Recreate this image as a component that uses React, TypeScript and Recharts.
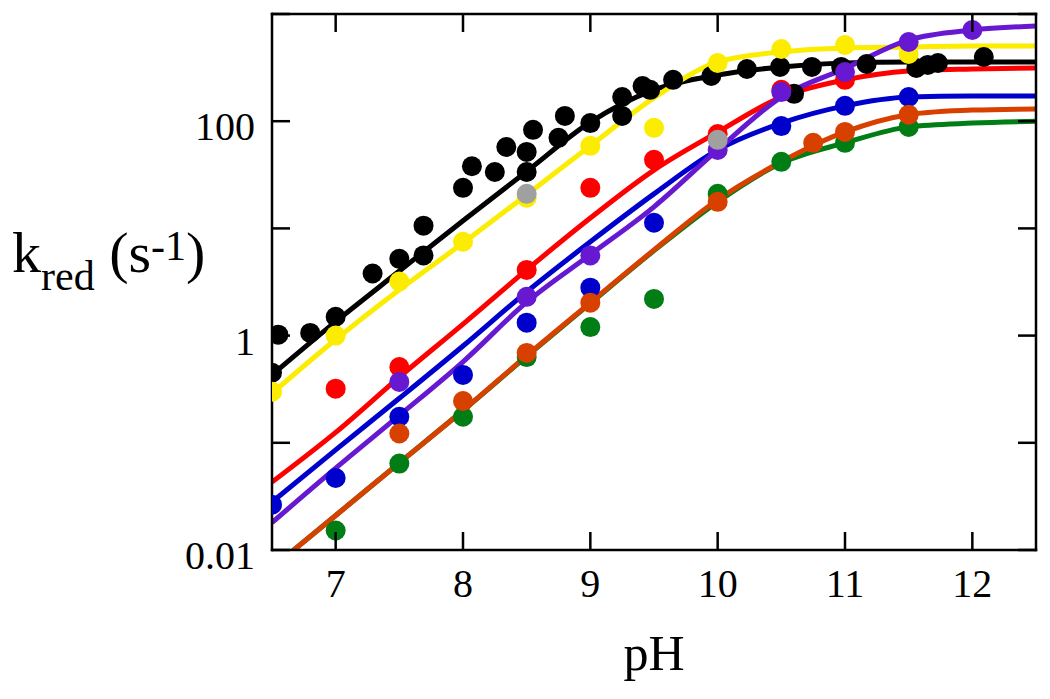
import React from 'react';
import { ComposedChart, Line, Scatter, XAxis, YAxis } from 'recharts';

// ---- axis ticks ----
const xTicks = [7, 8, 9, 10, 11, 12];
const yTicks = [0.01, 0.1, 1, 10, 100, 1000];
const yLabelled = [0.01, 1, 100];

// ---- fitted curves (read at each half pH unit) ----
const fitPH = [6.5, 7, 7.5, 8, 8.5, 9, 9.5, 10, 10.5, 11, 11.5, 12, 12.5];
const blackFit = [0.43, 1.35, 4.0, 11.8, 34, 98, 196, 270, 321, 350, 357, 357, 357];
const yellowFit = [0.29, 0.92, 2.68, 7.3, 20.6, 58.9, 165, 357, 443, 482, 492, 503, 503];
const redFit = [0.043, 0.125, 0.41, 1.28, 4.1, 12.5, 35, 79, 168, 243, 294, 307, 314];
const blueFit = [0.028, 0.086, 0.26, 0.8, 2.56, 7.5, 21, 54, 96, 139, 168, 172, 172];
const purpleFit = [0.018, 0.058, 0.18, 0.57, 2.05, 5.7, 15.9, 54, 168, 310, 573, 709, 773];
const orangeFit = [0.0068, 0.021, 0.065, 0.2, 0.65, 2.03, 6.3, 18.5, 41.8, 79.4, 115, 127, 130];
const greenFit = [0.0068, 0.021, 0.065, 0.2, 0.64, 2.0, 6.2, 17.7, 40.8, 62.8, 88.5, 96, 100];

// ---- measured points ----
const blackPH = [6.5, 6.55, 6.8, 7.0, 7.29, 7.5, 7.69, 7.69, 8.0, 8.07, 8.25, 8.34, 8.5, 8.5, 8.55, 8.75, 8.8, 9.0, 9.25, 9.25, 9.41, 9.47, 9.65, 9.95, 10.23, 10.49, 10.6, 10.74, 10.97, 11.17, 11.56, 11.65, 11.73, 12.09];
const blackK = [0.45, 1.02, 1.06, 1.5, 3.8, 5.2, 5.6, 10.6, 23.9, 38, 33.6, 57.5, 51.7, 33.6, 83, 70, 112, 96, 168, 112, 213, 196, 243, 264, 307, 321, 180, 321, 321, 342, 314, 335, 349, 397];

const yellowPH = [6.5, 7, 7.5, 8, 8.5, 9, 9.5, 10, 10.5, 11, 11.5];
const yellowK = [0.3, 1.0, 3.2, 7.5, 19.3, 58.9, 86.7, 349, 472, 514, 424];

const redPH = [7, 7.5, 8.5, 9, 9.5, 10, 10.5, 11];
const redK = [0.32, 0.51, 4.1, 23.9, 43.6, 76, 196, 243];

const bluePH = [6.5, 7, 7.5, 8, 8.5, 9, 9.5, 10.5, 11, 11.5];
const blueK = [0.0265, 0.047, 0.175, 0.43, 1.32, 2.8, 11.3, 90, 139, 168];

const greenPH = [7, 7.5, 8, 8.5, 9, 9.5, 10, 10.5, 11, 11.5];
const greenK = [0.0152, 0.064, 0.175, 0.63, 1.2, 2.2, 21, 41.8, 62.8, 88.5];

const orangePH = [7.5, 8, 8.5, 9, 10, 10.75, 11, 11.5];
const orangeK = [0.122, 0.245, 0.69, 2.03, 17.7, 62.8, 79.4, 115];

const purplePH = [7.5, 8.5, 9, 10, 10.5, 11, 11.5, 12];
const purpleK = [0.37, 2.3, 5.6, 54, 187, 288, 548, 709];

const grayPH = [8.5, 10];
const grayK = [21, 67];

const C = {
  black: '#000000',
  yellow: '#fbec00',
  red: '#ff0000',
  blue: '#0000cc',
  purple: '#6619d1',
  orange: '#d84000',
  green: '#007d14',
  gray: '#a0a0a0',
};

const pts = (xs: number[], ys: number[]) => xs.map((x, i) => ({ x, y: ys[i] }));

const FONT = '"Liberation Serif", "Times New Roman", serif';
const TICK_LEN = 18;
const AX = 2.5;

const BottomTick = (p: any) => {
  const { x, y, payload } = p;
  return (
    <g>
      <line x1={x} x2={x} y1={y} y2={y - TICK_LEN} stroke="#000" strokeWidth={AX} />
      <text x={x} y={y + 47} textAnchor="middle" fontSize={40} fontFamily={FONT} fill="#000">
        {payload.value}
      </text>
    </g>
  );
};

const TopTick = (p: any) => {
  const { x, y } = p;
  return <line x1={x} x2={x} y1={y} y2={y + TICK_LEN} stroke="#000" strokeWidth={AX} />;
};

const LeftTick = (p: any) => {
  const { x, y, payload } = p;
  const v = payload.value;
  const show = yLabelled.some((t) => Math.abs(t - v) < 1e-9);
  return (
    <g>
      <line x1={x} x2={x + TICK_LEN} y1={y} y2={y} stroke="#000" strokeWidth={AX} />
      {show && (
        <text x={x - 17} y={y + 19} textAnchor="end" fontSize={40} fontFamily={FONT} fill="#000">
          {String(v)}
        </text>
      )}
    </g>
  );
};

const RightTick = (p: any) => {
  const { x, y } = p;
  return <line x1={x} x2={x - TICK_LEN} y1={y} y2={y} stroke="#000" strokeWidth={AX} />;
};

const YTitle = (p: any) => {
  const vb = p.viewBox || { x: 0, y: 6 };
  const x = vb.x + 4;
  const y = vb.y + 258;
  return (
    <text x={x} y={y} fontSize={58} fontFamily={FONT} fill="#000">
      <tspan>k</tspan>
      <tspan fontSize={42} dy={18}>red</tspan>
      <tspan dy={-18}>{'\u00A0(s'}</tspan>
      <tspan fontSize={42} dy={-12}>-1</tspan>
      <tspan dy={12}>)</tspan>
    </text>
  );
};

const XTitle = (p: any) => {
  const vb = p.viewBox || { x: 264, y: 542, width: 764 };
  return (
    <text x={vb.x + vb.width / 2} y={vb.y + 120} textAnchor="middle" fontSize={50} fontFamily={FONT} fill="#000">
      pH
    </text>
  );
};

const dot = (color: string) => (p: any) => <circle cx={p.cx} cy={p.cy} r={10} fill={color} />;

const lines: [number[], string][] = [
  [blackFit, C.black],
  [yellowFit, C.yellow],
  [redFit, C.red],
  [blueFit, C.blue],
  [greenFit, C.green],
  [orangeFit, C.orange],
  [purpleFit, C.purple],
];

const scatters: [number[], number[], string][] = [
  [blackPH, blackK, C.black],
  [yellowPH, yellowK, C.yellow],
  [redPH, redK, C.red],
  [bluePH, blueK, C.blue],
  [greenPH, greenK, C.green],
  [orangePH, orangeK, C.orange],
  [purplePH, purpleK, C.purple],
  [grayPH, grayK, C.gray],
];

const axisLine = { stroke: '#000', strokeWidth: AX, strokeLinecap: 'square' as const };

export default function App() {
  return (
    <ComposedChart width={1034} height={680} margin={{ top: 5, right: 5, bottom: 0, left: 0 }}>
      <XAxis
        xAxisId="b"
        type="number"
        dataKey="x"
        domain={[6.5, 12.5]}
        ticks={xTicks}
        interval={0}
        allowDataOverflow
        height={138}
        tickSize={0}
        tickMargin={0}
        tickLine={false}
        axisLine={axisLine}
        tick={<BottomTick />}
        label={<XTitle />}
      />
      <XAxis
        xAxisId="t"
        orientation="top"
        type="number"
        dataKey="x"
        domain={[6.5, 12.5]}
        ticks={xTicks}
        interval={0}
        allowDataOverflow
        height={1}
        tickSize={0}
        tickMargin={0}
        tickLine={false}
        axisLine={axisLine}
        tick={<TopTick />}
      />
      <YAxis
        yAxisId="l"
        type="number"
        scale="log"
        domain={[0.01, 1000]}
        ticks={yTicks}
        interval={0}
        allowDataOverflow
        width={264}
        tickSize={0}
        tickMargin={0}
        tickLine={false}
        axisLine={axisLine}
        tick={<LeftTick />}
        label={<YTitle />}
      />
      <YAxis
        yAxisId="r"
        orientation="right"
        type="number"
        scale="log"
        domain={[0.01, 1000]}
        ticks={yTicks}
        interval={0}
        allowDataOverflow
        width={1}
        tickSize={0}
        tickMargin={0}
        tickLine={false}
        axisLine={axisLine}
        tick={<RightTick />}
      />
      <Line
        xAxisId="t"
        yAxisId="r"
        data={pts(fitPH, blackFit)}
        dataKey="y"
        stroke="none"
        dot={false}
        activeDot={false}
        isAnimationActive={false}
      />
      {lines.map(([vals, color], i) => (
        <Line
          key={'l' + i}
          xAxisId="b"
          yAxisId="l"
          data={pts(fitPH, vals)}
          dataKey="y"
          type="monotone"
          stroke={color}
          strokeWidth={5}
          dot={false}
          activeDot={false}
          isAnimationActive={false}
        />
      ))}
      {scatters.map(([xs, ys, color], i) => (
        <Scatter
          key={'s' + i}
          xAxisId="b"
          yAxisId="l"
          data={pts(xs, ys)}
          dataKey="y"
          fill={color}
          shape={dot(color)}
          isAnimationActive={false}
        />
      ))}
    </ComposedChart>
  );
}
